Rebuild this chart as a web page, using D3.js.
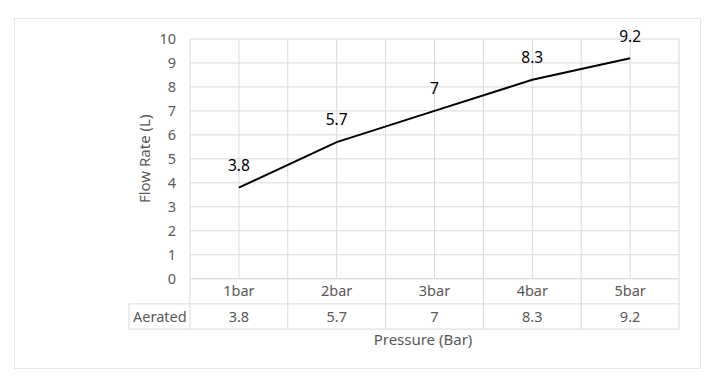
<!DOCTYPE html>
<html>
<head>
<meta charset="utf-8">
<script src="https://cdn.jsdelivr.net/npm/d3@7"></script>
<style>
  body { margin: 0; background: #fff; }
  svg { display: block; font-family: "Noto Sans", "Open Sans", sans-serif; }
</style>
</head>
<body>
<svg id="chart" width="720" height="388"></svg>
<script>
/* ---------- data ---------- */
const categories = ['1bar', '2bar', '3bar', '4bar', '5bar'];
const seriesName = 'Aerated';
const values = [3.8, 5.7, 7, 8.3, 9.2];
const yTicks = [0, 1, 2, 3, 4, 5, 6, 7, 8, 9, 10];

/* ---------- layout ---------- */
const plot = { left: 190, right: 679, top: 39, bottom: 278.7 };
const rowH = 25.2;
const tableLeft = 129;
const gridColor = '#d9d9d9';
const textGray = '#595959';
const fs = 14.5;

const svg = d3.select('#chart');

// outer chart border
svg.append('rect')
  .attr('x', 14.5).attr('y', 18.5)
  .attr('width', 686).attr('height', 350)
  .attr('fill', '#fff').attr('stroke', '#e6e6e6');

const x = d3.scaleBand().domain(categories).range([plot.left, plot.right]);
const y = d3.scaleLinear().domain([0, 10]).range([plot.bottom, plot.top]);
const cx = c => x(c) + x.bandwidth() / 2;

/* ---------- gridlines ---------- */
const g = svg.append('g');

g.selectAll('.hgrid').data(yTicks).join('line')
  .attr('x1', plot.left).attr('x2', plot.right)
  .attr('y1', d => y(d)).attr('y2', d => y(d))
  .attr('stroke', gridColor).attr('stroke-width', 1);

// vertical gridlines at band edges and band centres
const vLines = [];
categories.forEach(c => { vLines.push(x(c)); vLines.push(cx(c)); });
vLines.push(plot.right);
g.selectAll('.vgrid').data(vLines).join('line')
  .attr('x1', d => d).attr('x2', d => d)
  .attr('y1', plot.top).attr('y2', plot.bottom)
  .attr('stroke', gridColor).attr('stroke-width', 1);

/* ---------- y axis labels ---------- */
g.selectAll('.ytick').data(yTicks).join('text')
  .attr('x', 176).attr('y', d => y(d))
  .attr('dy', '0.35em')
  .attr('text-anchor', 'end')
  .attr('font-size', fs)
  .attr('fill', textGray)
  .text(d => d);

svg.append('text')
  .attr('transform', `translate(150,${(plot.top + plot.bottom) / 2}) rotate(-90)`)
  .attr('text-anchor', 'middle')
  .attr('font-size', 15)
  .attr('fill', textGray)
  .text('Flow Rate (L)');

/* ---------- data table ---------- */
const t = svg.append('g');
const r1 = plot.bottom, r2 = plot.bottom + rowH, r3 = plot.bottom + 2 * rowH;

// horizontal table lines
[[plot.left, r1], [tableLeft, r2], [tableLeft, r3]].forEach(([x0, yy]) => {
  t.append('line')
    .attr('x1', x0).attr('x2', plot.right)
    .attr('y1', yy).attr('y2', yy)
    .attr('stroke', gridColor);
});
// vertical table lines
t.append('line').attr('x1', tableLeft).attr('x2', tableLeft)
  .attr('y1', r2).attr('y2', r3).attr('stroke', gridColor);
t.selectAll('.tv').data([...categories.map(c => x(c)), plot.right]).join('line')
  .attr('x1', d => d).attr('x2', d => d)
  .attr('y1', r1).attr('y2', r3)
  .attr('stroke', gridColor);

t.selectAll('.cat').data(categories).join('text')
  .attr('x', d => cx(d)).attr('y', (r1 + r2) / 2)
  .attr('dy', '0.35em').attr('text-anchor', 'middle')
  .attr('font-size', fs).attr('fill', textGray)
  .text(d => d);

t.selectAll('.val').data(values).join('text')
  .attr('x', (d, i) => cx(categories[i])).attr('y', (r2 + r3) / 2)
  .attr('dy', '0.35em').attr('text-anchor', 'middle')
  .attr('font-size', fs).attr('fill', textGray)
  .text(d => d);

t.append('text')
  .attr('x', 133).attr('y', (r2 + r3) / 2)
  .attr('dy', '0.35em')
  .attr('font-size', fs).attr('fill', textGray)
  .text(seriesName);

svg.append('text')
  .attr('x', 423).attr('y', 340)
  .attr('dy', '0.35em').attr('text-anchor', 'middle')
  .attr('font-size', 15).attr('fill', textGray)
  .text('Pressure (Bar)');

/* ---------- line ---------- */
const line = d3.line()
  .x((d, i) => cx(categories[i]))
  .y(d => y(d));

svg.append('path')
  .datum(values)
  .attr('d', line)
  .attr('fill', 'none')
  .attr('stroke', '#000')
  .attr('stroke-width', 2);

svg.selectAll('.lbl').data(values).join('text')
  .attr('x', (d, i) => cx(categories[i]))
  .attr('y', d => y(d) - 22)
  .attr('dy', '0.35em').attr('text-anchor', 'middle')
  .attr('font-size', 15.5).attr('fill', '#000')
  .text(d => d);
</script>
</body>
</html>
